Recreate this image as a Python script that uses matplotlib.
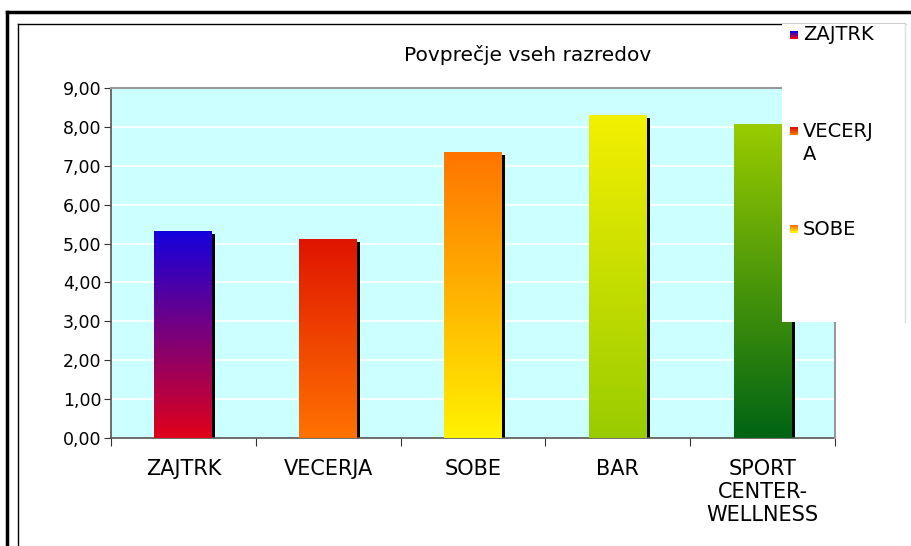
import matplotlib
matplotlib.use("Agg")
from matplotlib import pyplot as plt
from matplotlib.patches import Rectangle
from matplotlib.lines import Line2D
from matplotlib.colors import LinearSegmentedColormap
import matplotlib.transforms as mtransforms
import numpy as np

categories = ["ZAJTRK", "VECERJA", "SOBE", "BAR", "SPORT\nCENTER-\nWELLNESS"]
values = [5.32, 5.12, 7.36, 8.31, 8.07]
# gradient colours for each bar: (top, bottom)
gradients = [("#1400dc", "#e2001a"),
             ("#e01400", "#ff7200"),
             ("#ff7400", "#fff200"),
             ("#f4f000", "#99cc00"),
             ("#99cc00", "#006414")]
legend_names = ["ZAJTRK", "VECERJ\nA", "SOBE"]
yticks = np.arange(0, 10, 1)

fig = plt.figure(figsize=(9.11, 5.46), dpi=100)
ax = fig.add_axes([111/911, 1-438/546, 724/911, 350/546])
ax.set_facecolor("#ccffff")

x = np.arange(len(categories))
width = 0.4
shadow = mtransforms.offset_copy(ax.transData, fig=fig, x=3, y=-3, units="dots")
for i, v in enumerate(values):
    ax.add_patch(Rectangle((x[i]-width/2, 0), width, v, facecolor="black",
                           edgecolor="none", transform=shadow, zorder=2))
    cmap = LinearSegmentedColormap.from_list("g%d" % i, [gradients[i][1], gradients[i][0]])
    grad = np.linspace(0, 1, 256).reshape(-1, 1)
    im = ax.imshow(grad, cmap=cmap, origin="lower", aspect="auto",
                   extent=(x[i]-width/2, x[i]+width/2, 0, v), zorder=3)
    clip = Rectangle((x[i]-width/2, 0), width, v, facecolor="none", edgecolor="none")
    ax.add_patch(clip)
    im.set_clip_path(clip)

ax.set_xlim(-0.5, len(categories)-0.5)
ax.set_ylim(0, 9)
ax.set_yticks(yticks)
ax.set_yticklabels(["%d,00" % t for t in yticks], fontsize=12.5)
ax.yaxis.grid(True, color="white", linewidth=1.2)
ax.set_axisbelow(True)
ax.set_xticks(np.arange(-0.5, len(categories), 1))
ax.set_xticklabels([])
ax.set_xticks(x, minor=True)
ax.set_xticklabels(categories, minor=True, fontsize=15, linespacing=1.2)
ax.tick_params(axis="x", which="minor", length=0, pad=15)
ax.tick_params(axis="x", which="major", length=6, color="#333333", direction="out")
ax.tick_params(axis="y", length=5, color="#333333", pad=2)
for s in ["top", "right"]:
    ax.spines[s].set_visible(False)
for s in ["left", "bottom"]:
    ax.spines[s].set_color("#555555")
    ax.spines[s].set_linewidth(1.2)
ax.plot([-0.5, len(categories)-0.5], [9, 9], color="#999999", lw=1.5,
        clip_on=False, zorder=4)
ax.plot([len(categories)-0.5]*2, [0, 9], color="#999999", lw=1.5,
        clip_on=False, zorder=4)

fig.text(528/911, 1-55/546, "Povprečje vseh razredov", ha="center", va="center", fontsize=14.5)

# frames
fig.add_artist(Line2D([7/911, 1], [1-12/546]*2, color="black", lw=2.5))
fig.add_artist(Line2D([7/911]*2, [0, 1-12/546], color="black", lw=2.5))
fig.add_artist(Line2D([18/911, 905/911], [1-24/546]*2, color="black", lw=1))
fig.add_artist(Line2D([18/911]*2, [0, 1-24/546], color="black", lw=1))

# legend box covering the plot
fig.add_artist(Rectangle((782/911, 1-322/546), 123/911, 298/546, facecolor="white",
                         edgecolor="none", transform=fig.transFigure, zorder=5))
fig.add_artist(Line2D([905/911]*2, [1-322/546, 1-24/546], color="#dddddd", lw=1, zorder=6))
leg_y = [35, 131, 229]
leg_text_y = [35, 143, 229]
for i, name in enumerate(legend_names):
    yy = 1-leg_y[i]/546
    cmap = LinearSegmentedColormap.from_list("l%d" % i, [gradients[i][0], gradients[i][1]])
    for k in range(4):
        fig.add_artist(Rectangle((790/911, yy + (2-k)*2/546 - 2/546), 8/911, 2/546,
                                 facecolor=cmap(k/3), edgecolor="none",
                                 transform=fig.transFigure, zorder=6))
    fig.text(803/911, 1-leg_text_y[i]/546, name, ha="left", va="center",
             fontsize=14, zorder=7, linespacing=1.3)

fig.savefig("out.png", dpi=100)
